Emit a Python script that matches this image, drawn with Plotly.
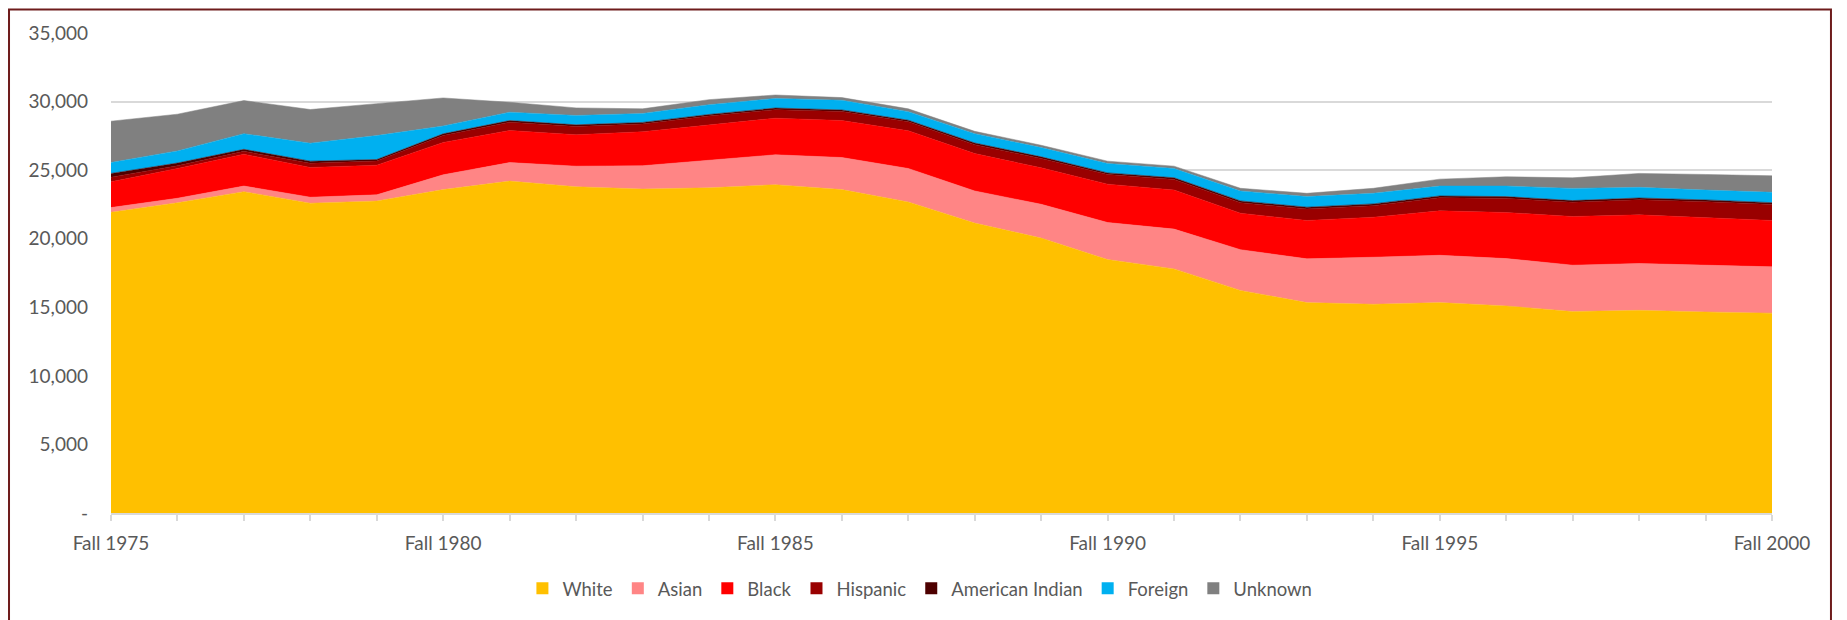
import plotly.graph_objects as go

# enrollment by race/ethnicity, Fall 1975 - Fall 2000
years = list(range(1975, 2001))
white = [21930, 22620, 23430, 22590, 22750, 23580, 24200, 23790, 23620, 23710, 23940, 23580, 22680,
         21140, 20050, 18480, 17800, 16230, 15340, 15220, 15340, 15100, 14690, 14780, 14660, 14570]
asian = [340, 330, 410, 435, 450, 1080, 1350, 1500, 1700, 2030, 2180, 2340, 2440,
         2340, 2460, 2700, 2900, 2970, 3190, 3430, 3450, 3450, 3380, 3410, 3390, 3380]
black = [1880, 2170, 2320, 2170, 2160, 2360, 2340, 2290, 2480, 2560, 2670, 2700, 2750,
         2730, 2660, 2800, 2850, 2660, 2800, 2920, 3240, 3360, 3550, 3550, 3500, 3380]
hispanic = [340, 200, 210, 300, 300, 500, 600, 600, 560, 640, 620, 650, 650,
            650, 680, 700, 770, 770, 840, 840, 960, 1030, 1030, 1100, 1150, 1170]
american_indian = [270, 200, 150, 160, 115, 130, 125, 125, 120, 120, 120, 120, 120,
                   120, 120, 120, 125, 125, 130, 130, 130, 130, 130, 130, 130, 130]
foreign = [800, 880, 1140, 1310, 1745, 570, 610, 680, 650, 710, 700, 705, 625,
           680, 675, 685, 675, 725, 770, 770, 720, 770, 890, 775, 720, 755]
unknown = [3010, 2680, 2415, 2455, 2330, 2045, 725, 555, 340, 370, 250, 195, 205,
           170, 170, 170, 170, 195, 240, 365, 505, 675, 770, 1015, 1135, 1205]

series_names = ['White', 'Asian', 'Black', 'Hispanic', 'American Indian', 'Foreign', 'Unknown']
series_values = [white, asian, black, hispanic, american_indian, foreign, unknown]
colors = ['#FFC000', '#FF8585', '#FF0000', '#990000', '#4D0000', '#00B0F0', '#808080']

x_ticktext = [f'Fall {y}' if y % 5 == 0 else '' for y in years]
y_tickvals = [0, 5000, 10000, 15000, 20000, 25000, 30000, 35000]
y_ticktext = ['-', '5,000', '10,000', '15,000', '20,000', '25,000', '30,000', '35,000']

FONT = 'Lato, "Open Sans", sans-serif'
TXT = '#595959'
GRID = '#D9D9D9'

fig = go.Figure()

# stacked areas (bottom -> top)
for name, vals, c in zip(series_names, series_values, colors):
    fig.add_trace(go.Scatter(
        x=years, y=vals, name=name, mode='lines', stackgroup='one',
        line=dict(width=0.5, color=c), fillcolor=c, showlegend=False,
        hovertemplate=name + ' %{x}: %{y:,}<extra></extra>'))

# square legend markers like Excel
for name, c in zip(series_names, colors):
    fig.add_trace(go.Scatter(x=[None], y=[None], mode='markers', name=name,
                             marker=dict(symbol='square', size=12, color=c)))

# page body has an 8px margin -> figure is 8px smaller than the window
fig.update_layout(
    width=1839, height=612,
    margin=dict(l=103, r=75, t=25, b=105),
    paper_bgcolor='white', plot_bgcolor='white',
    font=dict(family=FONT, size=19, color=TXT),
    showlegend=True,
    legend=dict(orientation='h', x=0.487, xanchor='center', y=-0.158, yanchor='middle',
                font=dict(size=18.5, color=TXT), itemwidth=30, traceorder='normal',
                bgcolor='rgba(0,0,0,0)'),
    # chart-area frame
    shapes=[dict(type='rect', xref='paper', yref='paper',
                 x0=-0.0614, x1=1.0355, y0=-0.30, y1=1.0488,
                 line=dict(color='#6E1C1C', width=2), layer='above')],
)

fig.update_xaxes(
    range=[1975, 2000], tickmode='array', tickvals=years, ticktext=x_ticktext,
    ticks='outside', ticklen=6, tickwidth=1.5, tickcolor=GRID,
    showline=True, linecolor=GRID, linewidth=2, showgrid=False, zeroline=False,
    ticklabelstandoff=6, tickfont=dict(size=19, color=TXT))

fig.update_yaxes(
    range=[0, 35000], tickmode='array', tickvals=y_tickvals, ticktext=y_ticktext,
    showgrid=True, gridcolor=GRID, gridwidth=1.5, zeroline=False, showline=False,
    ticks='', ticklabelstandoff=22, tickfont=dict(size=19, color=TXT))

fig.write_html('out.html')
